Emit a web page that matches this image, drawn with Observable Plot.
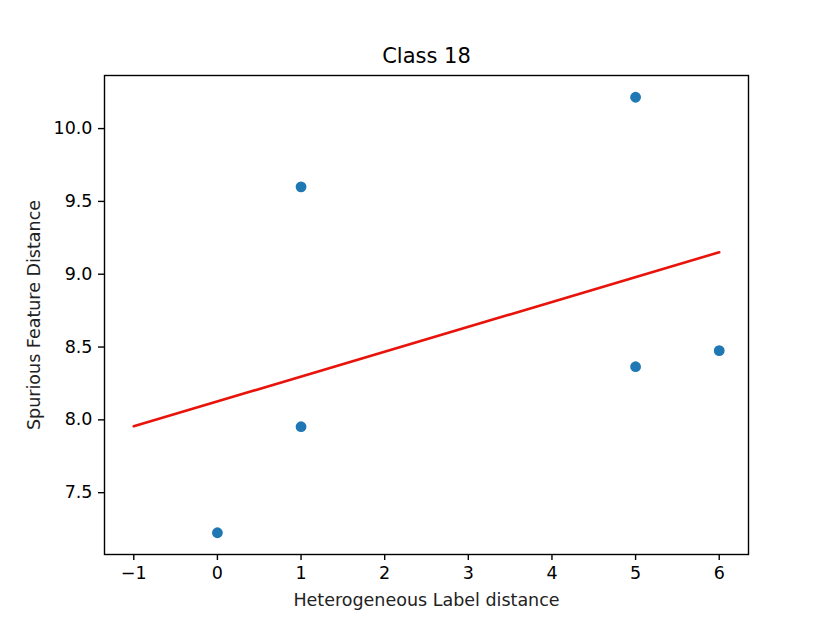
<!DOCTYPE html>
<html>
<head>
<meta charset="utf-8">
<script src="https://cdn.jsdelivr.net/npm/d3@7"></script>
<script src="https://cdn.jsdelivr.net/npm/@observablehq/plot@0.6"></script>
<style>
  html, body { margin: 0; padding: 0; background: #fff; }
  #chart svg { display: block; }
</style>
</head>
<body>
<div id="chart"></div>
<script>
// ---- data ----
const title = "Class 18";
const xLabel = "Heterogeneous Label distance";
const yLabel = "Spurious Feature Distance";
const pointX = [0, 1, 1, 5, 5, 6];
const pointY = [7.225, 9.60, 7.953, 10.215, 8.365, 8.475];
const fitX = [-1, 6];
const fitY = [7.956, 9.151];
const xTicks = [-1, 0, 1, 2, 3, 4, 5, 6];
const yTicks = [7.5, 8.0, 8.5, 9.0, 9.5, 10.0];

const points = pointX.map((x, i) => ({x, y: pointY[i]}));
const fit = fitX.map((x, i) => ({x, y: fitY[i]}));

// matplotlib-style 5% margins
const xPad = (d3.max(fitX) - d3.min(fitX)) * 0.05;
const yPad = (d3.max(pointY) - d3.min(pointY)) * 0.05;
const xDomain = [d3.min(fitX) - xPad, d3.max(fitX) + xPad];
const yDomain = [d3.min(pointY) - yPad, d3.max(pointY) + yPad];

const chart = Plot.plot({
  width: 830,
  height: 623,
  marginLeft: 104,
  marginRight: 82,
  marginTop: 75,
  marginBottom: 69,
  style: {fontFamily: "DejaVu Sans", fontSize: "17.5px", color: "#000", background: "#fff"},
  x: {domain: xDomain},
  y: {domain: yDomain},
  marks: [
    Plot.frame({stroke: "#000", strokeWidth: 1.4}),
    Plot.axisX({ticks: xTicks, tickSize: 6, tickPadding: 6, tickFormat: d3.format(".0f"), label: null, stroke: "#000", strokeWidth: 1.4, fill: "#000", fontSize: 17.5}),
    Plot.axisY({ticks: yTicks, tickSize: 6, tickPadding: 6, tickFormat: d3.format(".1f"), label: null, stroke: "#000", strokeWidth: 1.4, fill: "#000", fontSize: 17.5}),
    Plot.line(fit, {x: "x", y: "y", stroke: "#e8140c", strokeWidth: 2.6}),
    Plot.dot(points, {x: "x", y: "y", r: 5.4, fill: "#1f77b4", stroke: "none"}),
    Plot.text([title], {frameAnchor: "top", dy: -19, lineAnchor: "middle", fontSize: 21, fill: "#000"}),
    Plot.text([xLabel], {frameAnchor: "bottom", dy: 46, lineAnchor: "middle", fontSize: 17.5, fill: "#222"}),
    Plot.text([yLabel], {frameAnchor: "left", dx: -70, rotate: -90, textAnchor: "middle", lineAnchor: "middle", fontSize: 17.5, fill: "#222"})
  ]
});
document.getElementById("chart").appendChild(chart);
</script>
</body>
</html>
